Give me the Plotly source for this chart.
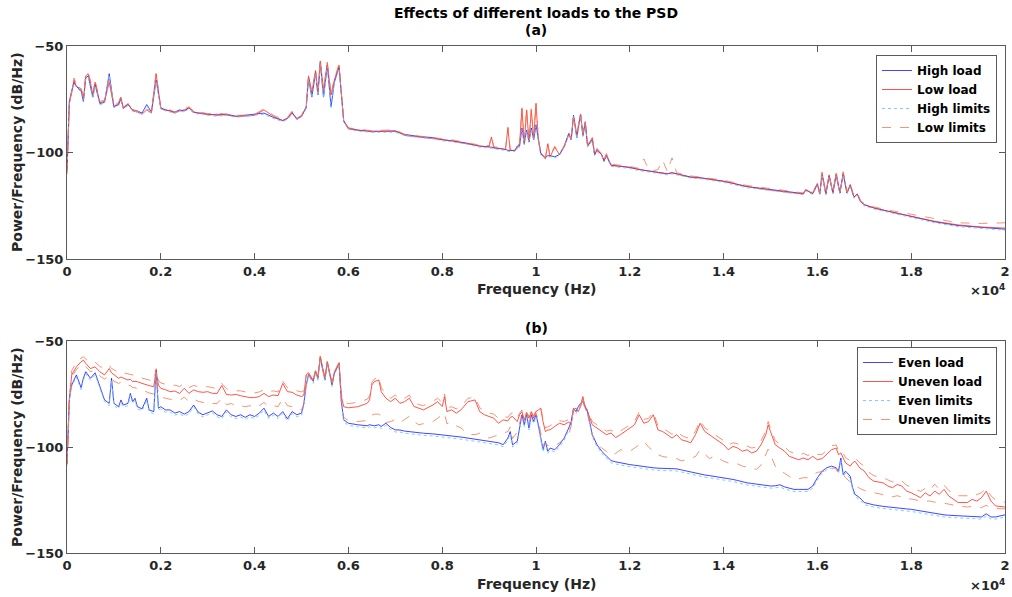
import plotly.graph_objects as go

# ---------------- Panel (a) data ----------------
FREQ_A = [
    0, 50, 100, 150, 200, 300, 350, 400, 450, 500,
    550, 600, 700, 800, 900, 1000, 1100, 1150, 1200, 1300,
    1400, 1500, 1600, 1700, 1800, 1900, 2000, 2100, 2200, 2300,
    2400, 2500, 2600, 2700, 2800, 2900, 3000, 3200, 3400, 3600,
    3800, 4000, 4200, 4400, 4600, 4700, 4800, 4900, 5000, 5100,
    5150, 5220, 5300, 5350, 5400, 5470, 5550, 5630, 5700, 5800,
    5900, 6000, 6200, 6500, 6800, 7000, 7200, 7500, 7800, 8000,
    8200, 8500, 8800, 9000, 9050, 9100, 9200, 9350, 9400, 9450,
    9550, 9600, 9650, 9700, 9750, 9800, 9850, 9900, 9950, 10000,
    10050, 10100, 10200, 10250, 10300, 10400, 10500, 10600, 10700, 10750,
    10800, 10870, 10950, 11000, 11050, 11100, 11200, 11250, 11300, 11400,
    11450, 11500, 11600, 11800, 12000, 12200, 12300, 12400, 12500, 12600,
    12700, 12800, 12900, 13000, 13300, 13500, 14000, 14500, 15000, 15500,
    15700, 15750, 15900, 16000, 16050, 16100, 16180, 16250, 16330, 16400,
    16480, 16550, 16630, 16700, 16780, 16850, 16920, 17000, 17200, 17500,
    18000, 18500, 19000, 19500, 20000,
]

HIGH_LOAD = [
    -108, -76, -71, -67, -69, -71, -76, -65, -64, -69,
    -74, -68, -77, -76.5, -63, -78.5, -77.5, -75, -79, -77.5,
    -80, -80.5, -81.5, -77.5, -81, -66, -79, -80, -80.5, -81,
    -80, -80.5, -79, -81, -81.5, -81.5, -82, -82.5, -82, -83,
    -82.5, -82, -81.5, -83.5, -85, -84, -81.5, -84, -83, -79,
    -65, -74, -62.5, -73, -58, -74, -59, -78.5, -67, -60,
    -85, -88.5, -89.5, -90, -90, -90, -91.5, -92.5, -93, -94,
    -94.5, -95.5, -97, -97.2, -97.5, -97.8, -98, -98.5, -99, -99,
    -99, -97, -97, -88.5, -96, -89.5, -95, -88.5, -94, -87,
    -95, -100.5, -102.5, -101.5, -101.5, -102, -101, -97, -91, -94,
    -82.5, -93, -82, -92, -86, -97, -94, -101, -99, -101,
    -104, -101.5, -106, -106.5, -107, -108, -108.3, -108.7, -109, -109.5,
    -109.7, -110, -109.5, -110, -111.5, -111.8, -113.5, -116, -117.5, -119,
    -119.3, -117.5, -119.3, -115, -119.5, -110.5, -119.5, -111, -119, -110.5,
    -119, -110, -119, -115.5, -121, -119.5, -123, -124.5, -126, -127.5,
    -130, -132.5, -134.3, -135.3, -136,
]

LOW_LOAD = [
    -110, -77, -72, -66, -69, -70, -75, -64, -63, -67,
    -73, -67, -76.5, -76, -67, -78.5, -77, -74, -79.5, -77,
    -80.5, -81, -82, -80, -81.5, -63, -79.5, -80, -80.5, -81.5,
    -80.5, -80, -79, -81, -81.5, -82, -82.3, -82, -82.5, -83,
    -83, -82.5, -80, -83, -85, -84, -81, -84.5, -83, -78.5,
    -64, -72, -61.5, -72, -57, -71, -58, -73, -66, -59,
    -85.5, -89, -89.5, -90.3, -90, -89.8, -92, -92.7, -93.4, -94,
    -94.5, -95.8, -97, -97.3, -92.7, -97.8, -98, -98.7, -88.5, -99,
    -99.2, -98, -96, -79.5, -95.5, -80, -95, -80, -93.5, -77,
    -94, -100, -103, -96, -102, -97.5, -101, -97.5, -91.5, -94,
    -83, -92, -82, -92, -85.5, -97, -93, -101, -98.5, -101,
    -104, -101, -106, -106.5, -107, -108, -108.3, -108.8, -109, -109.5,
    -109.7, -110, -109.5, -110, -111.7, -112, -113.5, -116, -117.7, -119,
    -119.5, -117.5, -119.3, -114.5, -119.5, -109.5, -119.5, -110.5, -119, -109.8,
    -119, -109.5, -119, -115, -121, -119.5, -123, -124.5, -126, -127.6,
    -129.8, -132.3, -134, -135, -135.5,
]

HIGH_LIMITS = [
    -109, -76.5, -71.5, -67.5, -69.5, -71.5, -76.5, -65.5, -64.5, -69.5,
    -74.5, -68.5, -77.5, -77, -63.5, -79, -78, -75.5, -79.5, -78,
    -80.5, -81, -82, -78, -81.5, -66.5, -79.5, -80.5, -81, -81.5,
    -80.5, -81, -79.5, -81.5, -82, -82, -82.5, -83, -82.5, -83.5,
    -83, -82.5, -82, -84, -85.5, -84.5, -82, -84.5, -83.5, -79.5,
    -65.5, -74.5, -63, -73.5, -58.5, -74.5, -59.5, -79, -67.5, -60.5,
    -85.5, -89, -90, -90.5, -90.5, -90.5, -92, -93, -93.5, -94.5,
    -95, -96, -97.5, -97.7, -98, -98.3, -98.5, -99, -99.5, -99.5,
    -99.5, -97.5, -97.5, -89, -96.5, -90, -95.5, -89, -94.5, -87.5,
    -95.5, -101, -103, -102, -102, -102.5, -101.5, -97.5, -91.5, -94.5,
    -83, -93.5, -82.5, -92.5, -86.5, -97.5, -94.5, -101.5, -99.5, -101.5,
    -104.5, -102, -106.5, -107, -107.5, -108.5, -108.8, -109.2, -109.5, -110,
    -110.2, -110.5, -110, -110.5, -112, -112.3, -114, -116.5, -118, -119.5,
    -119.8, -118, -119.8, -115.5, -120, -111, -120, -111.5, -119.5, -111,
    -119.5, -110.5, -119.5, -116, -121.5, -120, -123.5, -125, -126.5, -128,
    -130.5, -133, -134.8, -135.8, -136.5,
]

LOW_LIMITS = [
    -109, -76.5, -71, -65, -68, -69.5, -74, -63, -62.5, -66,
    -72, -66, -76, -75.5, -66, -78, -76.5, -73.5, -79, -76.5,
    -80, -80.5, -81.5, -79.5, -81, -62.5, -79, -79.5, -80, -81,
    -80, -79.5, -78.5, -80.5, -81, -81.5, -81.8, -81.5, -82, -82.5,
    -82.5, -82, -79.5, -82.5, -84.5, -83.5, -80.5, -84, -82.5, -78,
    -63.5, -71.5, -61, -71.5, -56.5, -70.5, -57.5, -72.5, -65.5, -58.5,
    -85, -88.5, -89, -89.8, -89.5, -89.3, -91.5, -92.2, -93, -93.5,
    -94, -95.3, -96.5, -96.8, -92.2, -97.3, -97.5, -98.2, -88, -98.5,
    -98.7, -97.5, -95.5, -79, -95, -79.5, -94.5, -79.5, -93, -76.5,
    -93.5, -99.5, -102.5, -95.5, -101.5, -97, -100.5, -97, -91, -93.5,
    -82.5, -91.5, -81.5, -91.5, -85, -96.5, -92.5, -100.5, -98, -100.5,
    -103.5, -100.5, -105.5, -106, -106.5, -107.5, -103, -108, -108.5, -108,
    -103.5, -109, -102.5, -109.5, -111, -111.5, -113, -115.5, -117, -118.5,
    -119, -117, -118.8, -114, -119, -109, -119, -110, -118.5, -109.3,
    -118.5, -109, -118.5, -114.5, -120.5, -119, -122.5, -124, -125.5, -127,
    -129, -131, -133, -133.3, -133,
]

# ---------------- Panel (b) data ----------------
FREQ_B = [
    0, 50, 100, 200, 300, 350, 400, 500, 600, 700,
    800, 900, 950, 1000, 1100, 1150, 1200, 1300, 1350, 1400,
    1450, 1500, 1600, 1700, 1750, 1850, 1900, 1950, 2000, 2100,
    2200, 2300, 2400, 2500, 2600, 2700, 2800, 2900, 3000, 3100,
    3200, 3300, 3400, 3500, 3600, 3700, 3800, 3900, 4000, 4100,
    4200, 4300, 4400, 4500, 4600, 4700, 4800, 4900, 5000, 5050,
    5100, 5150, 5250, 5300, 5350, 5400, 5500, 5550, 5650, 5700,
    5800, 5850, 5900, 6000, 6200, 6400, 6450, 6500, 6550, 6650,
    6700, 6800, 6900, 7000, 7100, 7200, 7300, 7400, 7500, 7600,
    7800, 7900, 8000, 8050, 8100, 8200, 8300, 8400, 8550, 8700,
    8800, 8900, 9000, 9100, 9200, 9300, 9400, 9450, 9500, 9600,
    9650, 9700, 9750, 9800, 9850, 9900, 9950, 10000, 10050, 10100,
    10150, 10200, 10250, 10300, 10400, 10500, 10600, 10700, 10750, 10800,
    10850, 10900, 10950, 11000, 11050, 11100, 11200, 11300, 11400, 11500,
    11600, 11700, 11800, 11900, 12000, 12100, 12200, 12300, 12400, 12500,
    12600, 12700, 12800, 12900, 13000, 13100, 13200, 13300, 13400, 13500,
    13600, 13700, 13800, 13900, 14000, 14100, 14200, 14300, 14400, 14500,
    14600, 14700, 14800, 14900, 14950, 15000, 15100, 15200, 15300, 15400,
    15500, 15600, 15700, 15800, 15900, 16000, 16100, 16200, 16300, 16400,
    16450, 16500, 16550, 16600, 16700, 16750, 16800, 16900, 17000, 17100,
    17200, 17400, 17500, 17600, 17700, 17800, 17900, 18000, 18200, 18300,
    18400, 18500, 18600, 18700, 18800, 19000, 19200, 19300, 19400, 19500,
    19600, 19700, 19800, 20000,
]

EVEN_LOAD = [
    -108, -77, -70.8, -66, -72, -67.5, -64.5, -67.6, -65, -71.6,
    -77.8, -79.4, -67.6, -79.4, -81, -77.8, -80.2, -79.4, -74.7, -78.6,
    -77, -81, -82, -77, -82.5, -83.3, -63.7, -81.7, -81, -82.5,
    -82.5, -84, -83.3, -84.5, -83.3, -80.2, -83.6, -84.8, -84, -83,
    -84.8, -85.6, -82.5, -84.8, -85.6, -84.8, -86, -84.8, -85.6, -84,
    -81.7, -85.6, -84, -85.6, -83.3, -86.7, -83.3, -84.8, -84, -79.4,
    -70.8, -65.8, -69, -64.5, -67.7, -57.8, -68.4, -60, -70.8, -65.3,
    -60.6, -78.6, -87.2, -88.8, -89.5, -90, -89.5, -89.8, -90, -89.5,
    -90.3, -88.8, -90.8, -91.9, -92, -92.5, -92.8, -93, -93.4, -93.5,
    -93.8, -94, -94.2, -94.3, -94.5, -94.8, -95, -95.3, -95.8, -96.3,
    -96.6, -97, -97.3, -97.6, -98, -98.9, -95.8, -92.7, -99, -97.3,
    -91, -84.8, -89.5, -84.8, -91, -84.8, -88, -84.8, -89.5, -95.8,
    -101.3, -97.3, -102, -100.5, -101.3, -98.9, -95.8, -91, -88, -81.7,
    -83.3, -81, -79.4, -78.6, -81, -83.3, -94.2, -98.9, -102, -104.4,
    -106.4, -107, -107.5, -108, -108.3, -108.6, -108.9, -109.5, -109.6, -109.8,
    -110, -110, -110.1, -110.2, -110.3, -110.8, -111.3, -111.7, -112.5, -113,
    -113.2, -113.5, -113.8, -114.2, -114.5, -114.9, -115.3, -115.8, -116.4, -116.9,
    -117.2, -117.5, -117.8, -118.1, -118.3, -118.4, -118.3, -117.8, -118.8, -119.5,
    -120, -120, -120, -120, -118.4, -114.5, -111.4, -109.8, -109, -109.8,
    -111.4, -105.2, -113, -111.4, -113.8, -119.2, -122.3, -123.9, -126.2, -126.8,
    -127.3, -128, -128.3, -128.5, -128.8, -129, -129.2, -129.4, -130.2, -130.6,
    -131, -131.4, -131.7, -132, -132.2, -132.5, -132.8, -132.9, -133, -133,
    -131.5, -133, -133, -132,
]

UNEVEN_LOAD = [
    -108, -78.6, -66, -62.2, -59.8, -59, -60.6, -63, -62.2, -64.5,
    -66, -63, -65, -66, -67.6, -67, -67.6, -68.4, -68, -69.2,
    -69, -69.2, -70, -70.8, -71, -71.6, -63.7, -70.8, -72.3, -73,
    -73.9, -73.6, -74.7, -72.3, -74.7, -73.1, -73.9, -74.2, -73.9, -74.7,
    -74.7, -71, -75.2, -75.5, -75.2, -75.8, -76.2, -76.7, -76.7, -76.2,
    -74.7, -76.2, -75.5, -75.8, -70, -73.9, -74.2, -75.5, -76.2, -75.5,
    -66.1, -65, -68.5, -64, -67, -57.5, -67.5, -59.8, -70, -65,
    -60.2, -76.2, -81, -81.5, -81, -79.4, -77.8, -70.8, -69.2, -68.4,
    -73.9, -77, -78.6, -77, -79.4, -78.6, -77, -80.9, -81.7, -82.5,
    -80.2, -78.6, -80.9, -76.2, -83.3, -82.5, -84, -82.5, -78.6, -77.8,
    -83.3, -84.8, -85.6, -86.4, -88.8, -87.2, -87.7, -86, -85.6, -88,
    -84.8, -83.3, -87.2, -84, -86.4, -83.3, -86.4, -83.3, -82.5, -81.7,
    -88, -92.7, -92, -91.9, -90.3, -88.8, -89.5, -88.2, -89.5, -82.5,
    -81.7, -83.3, -81, -76.2, -81.7, -83.3, -89.5, -91.1, -92.7, -94.2,
    -93.4, -95.5, -94.2, -92.7, -91.1, -89.5, -84.8, -88.8, -88, -84.8,
    -91.9, -92.7, -94.2, -95.8, -94.2, -96.6, -97.2, -98, -94.2, -88.8,
    -92.7, -94.2, -95.8, -97.3, -98.9, -101.3, -99.7, -100.5, -102, -101.3,
    -102.8, -102, -98.9, -94.2, -89.5, -92.7, -98.9, -100.5, -102, -104.4,
    -105.2, -106, -105.2, -106, -104.4, -106, -105.5, -103.6, -101.3, -100.5,
    -103.6, -102.8, -105, -107.5, -109, -107.5, -106.7, -109.8, -111.4, -114.5,
    -116.1, -116.9, -118.4, -119.2, -117.7, -118.4, -120.8, -121.6, -123.9, -121.6,
    -123.1, -120.8, -122.3, -120, -123.1, -126.2, -126.2, -124.7, -125.5, -123.9,
    -120.8, -125.5, -127.8, -128.3,
]

EVEN_LIMITS = [
    -109, -78, -71.5, -67, -73, -68.5, -65.5, -68.5, -66, -72.5,
    -78.5, -80.5, -68.5, -80.5, -82, -79, -81, -80.5, -75.5, -79.5,
    -78, -82, -83, -78, -83.5, -84.3, -64.5, -82.5, -82, -83.5,
    -83.5, -85, -84.3, -85.5, -84.3, -81, -84.5, -85.8, -85, -84,
    -85.8, -86.6, -83.5, -85.8, -86.6, -85.8, -87, -85.8, -86.6, -85,
    -82.7, -86.6, -85, -86.6, -84.3, -87.7, -84.3, -85.8, -85, -80.5,
    -71.5, -66.5, -70, -65, -68.5, -58.5, -69, -60.8, -71.5, -66,
    -61.3, -79.5, -88.2, -89.8, -90.5, -91, -90.5, -90.8, -91, -90.5,
    -91.3, -89.8, -91.8, -92.9, -93, -93.5, -93.8, -94, -94.4, -94.5,
    -94.8, -95, -95.2, -95.3, -95.5, -95.8, -96, -96.3, -96.8, -97.3,
    -97.6, -98, -98.3, -98.6, -99, -99.9, -96.8, -93.7, -100, -98.3,
    -92, -85.8, -90.5, -85.8, -92, -85.8, -89, -85.8, -90.5, -96.8,
    -102.3, -98.3, -103, -101.5, -102.3, -99.9, -96.8, -92, -89, -82.7,
    -84.3, -82, -80.4, -79.6, -82, -84.3, -95.2, -99.9, -103, -105.4,
    -107.4, -108, -108.5, -109, -109.3, -109.6, -109.9, -110.5, -110.6, -110.8,
    -111, -111, -111.1, -111.2, -111.3, -111.8, -112.3, -112.7, -113.5, -114,
    -114.2, -114.5, -114.8, -115.2, -115.5, -115.9, -116.3, -116.8, -117.4, -117.9,
    -118.2, -118.5, -118.8, -119.1, -119.3, -119.4, -119.3, -118.8, -119.8, -120.5,
    -121, -121, -121, -121, -119.4, -115.5, -112.4, -110.8, -110, -110.8,
    -112.4, -106.2, -114, -112.4, -114.8, -120.2, -123.3, -124.9, -127.2, -127.8,
    -128.3, -129, -129.3, -129.5, -129.8, -130, -130.2, -130.4, -131.2, -131.6,
    -132, -132.4, -132.7, -133, -133.2, -133.5, -133.8, -133.9, -134, -134,
    -132.5, -134, -134, -133,
]

UNEVEN_LIMITS_UPPER = [
    -108, -77, -64, -60, -58, -57.5, -58.5, -60.5, -60, -62,
    -63, -61.5, -63, -63.5, -65, -64.5, -65, -65.5, -65.5, -66,
    -66, -66.5, -67.5, -68, -68.5, -69, -63, -68.5, -69.8, -70.5,
    -71, -70.8, -71.5, -70, -72, -71, -71.5, -72, -71.5, -72,
    -72.5, -70, -72.5, -73, -73.5, -73.5, -74, -74.5, -74.5, -74,
    -73, -74, -73.5, -74, -69, -72, -72.5, -73.5, -74, -73.5,
    -66, -64.5, -68, -63.5, -66.5, -57, -67, -59.5, -69.5, -64.5,
    -60, -75, -79, -79.5, -79, -77.5, -76, -69.5, -68, -67,
    -72, -75, -77, -75.5, -77.5, -77, -75.5, -79, -80, -80.5,
    -78.5, -77, -79, -75, -81.5, -81, -82, -81, -77, -76.5,
    -81.5, -83, -84, -84.5, -86.5, -85.5, -86, -84.5, -84, -86.5,
    -84, -82.5, -86, -83.5, -85.5, -82.5, -85.5, -82.5, -82, -81,
    -87, -91, -90.5, -90, -88.5, -87.5, -88, -87, -88, -82,
    -81, -82.5, -80.5, -76, -81, -82.5, -88, -89.5, -91, -92.5,
    -92, -93.5, -92.5, -91, -89.5, -88, -83.5, -87, -86.5, -83.5,
    -90, -91, -92.5, -94, -92.5, -94.5, -95.5, -96, -92.5, -87.5,
    -91, -92.5, -94, -95.5, -97, -99, -98, -98.5, -100, -99.5,
    -100.5, -100, -97, -92.5, -88, -91, -97, -98.5, -100, -102,
    -103, -104, -103, -104, -102.5, -103.5, -103.5, -101.5, -99.5, -99,
    -101.5, -101, -103, -105, -106.5, -105.5, -105, -107.5, -109, -112,
    -113.5, -114.5, -115.5, -116.5, -115.5, -116, -118, -119, -121, -119.5,
    -120.5, -117.5, -120, -118, -120.5, -123, -123, -122, -122.5, -121.5,
    -119.5, -123, -125, -126,
]

UNEVEN_LIMITS_LOWER = [
    -108, -78, -67, -63.5, -61.5, -61, -62, -64.5, -64, -66.5,
    -68, -66.5, -67, -69, -70, -69.5, -70.5, -71, -71, -72,
    -72, -72.5, -73.5, -74, -74.5, -75, -66, -75.5, -76.5, -77,
    -77.5, -77.5, -78, -76.5, -78.5, -77.5, -78.5, -79, -78.5, -79.5,
    -79.5, -77, -80, -79.5, -80.5, -80.5, -81, -80.5, -81.5, -80.5,
    -79, -81, -80.5, -81, -77, -80.5, -81, -82, -82.5, -80,
    -69, -66, -69, -64.5, -67.5, -58, -68, -60, -70.5, -65.3,
    -60.5, -78, -86, -87.5, -88, -87.5, -86.5, -85, -84.5, -84.5,
    -85.5, -88.5, -88, -87, -88.5, -87, -85.5, -88, -89.5, -89,
    -88, -86.5, -85, -84, -89, -88.5, -90, -91, -94, -94.2,
    -93.5, -94.5, -95.8, -95, -94.2, -93.5, -92.7, -90.5, -96, -93,
    -88, -84.5, -88, -84.5, -88.5, -84, -87, -84, -87.5, -93,
    -99, -98, -99.5, -98.9, -99.5, -98, -96, -94.2, -90, -82,
    -83, -81.5, -80, -78, -81, -84, -94.5, -98, -100.5, -102,
    -104, -103, -101.3, -101.5, -102, -100.5, -99, -97.3, -100, -102,
    -103.6, -104.5, -105, -105.2, -105.5, -106.5, -106, -105.2, -104.5, -101.3,
    -103.5, -105.5, -104.2, -105.5, -106.7, -107.5, -107.5, -108, -109, -109.5,
    -110, -110.5, -108.5, -104, -101, -103.5, -109, -111, -112.5, -114,
    -115.3, -115, -114.5, -114.5, -113, -112, -111.5, -111.4, -110, -110,
    -112, -111, -113, -114.5, -116.5, -117, -118, -119.5, -120.5, -121,
    -121.5, -122.5, -123.5, -123.5, -123, -123.5, -124.5, -124.5, -125.5, -125.5,
    -125.5, -126, -126.5, -126.5, -127, -127.8, -128.3, -128, -128.6, -128.6,
    -127.5, -128.8, -129, -129.2,
]

X_TICK_VALUES = [0, 2000, 4000, 6000, 8000, 10000, 12000, 14000, 16000, 18000, 20000]
X_TICK_LABELS = ["0", "0.2", "0.4", "0.6", "0.8", "1", "1.2", "1.4", "1.6", "1.8", "2"]
Y_TICK_VALUES = [-150, -100, -50]

# ---------------- styling ----------------
FONT = "DejaVu Sans"
BLUE = "rgb(20,20,255)"
RED = "rgb(255,40,30)"
CYAN = "rgb(110,200,255)"
SALMON = "rgb(240,120,80)"
AXIS_COLOR = "#5a5a5a"

W, H = 1012, 597
L, R, T, B = 67, 7, 46, 44
plot_h = H - T - B


def yfrac(py):
    return (H - B - py) / plot_h


def xfrac(px):
    return (px - L) / (W - L - R)


fig = go.Figure()

panel_a = [
    ("High load", FREQ_A, HIGH_LOAD, BLUE, "solid", 0.8),
    ("Low load", FREQ_A, LOW_LOAD, RED, "solid", 0.8),
    ("High limits", FREQ_A, HIGH_LIMITS, CYAN, "dot", 0.9),
    ("Low limits", FREQ_A, LOW_LIMITS, SALMON, "dash", 0.8),
]
for name, x, y, c, d, w in panel_a:
    fig.add_trace(go.Scatter(x=x, y=y, name=name, mode="lines",
                             line=dict(color=c, dash=d, width=w),
                             xaxis="x", yaxis="y", legend="legend"))

panel_b = [
    ("Even load", FREQ_B, EVEN_LOAD, BLUE, "solid", 0.8, True),
    ("Uneven load", FREQ_B, UNEVEN_LOAD, RED, "solid", 0.8, True),
    ("Even limits", FREQ_B, EVEN_LIMITS, CYAN, "dot", 0.9, True),
    ("Uneven limits", FREQ_B, UNEVEN_LIMITS_UPPER, SALMON, "dash", 0.8, True),
    ("Uneven limits", FREQ_B, UNEVEN_LIMITS_LOWER, SALMON, "dash", 0.8, False),
]
for name, x, y, c, d, w, show in panel_b:
    fig.add_trace(go.Scatter(x=x, y=y, name=name, mode="lines",
                             line=dict(color=c, dash=d, width=w),
                             xaxis="x2", yaxis="y2", legend="legend2",
                             legendgroup=name, showlegend=show))

tickfont = dict(family=FONT, size=13, color="#262626", weight="bold")
xcommon = dict(range=[0, 20000], tickvals=X_TICK_VALUES, ticktext=X_TICK_LABELS,
               ticks="inside", ticklen=6, tickcolor=AXIS_COLOR, showline=True,
               linecolor=AXIS_COLOR, linewidth=1, mirror="ticks", showgrid=False,
               zeroline=False, tickfont=tickfont, domain=[0, 1], automargin=False)
ycommon = dict(range=[-150, -50], tickvals=Y_TICK_VALUES, ticks="inside", ticklen=6,
               tickcolor=AXIS_COLOR, showline=True, linecolor=AXIS_COLOR, linewidth=1,
               mirror="ticks", showgrid=False, zeroline=False, tickfont=tickfont,
               automargin=False)

legfont = dict(family=FONT, size=12, color="black", weight="bold")
fig.update_layout(
    width=W, height=H,
    margin=dict(l=L, r=R, t=T, b=B, autoexpand=False),
    paper_bgcolor="white", plot_bgcolor="white",
    xaxis=dict(**xcommon, anchor="y"),
    yaxis=dict(**ycommon, domain=[yfrac(259), 1.0], anchor="x"),
    xaxis2=dict(**xcommon, anchor="y2"),
    yaxis2=dict(**ycommon, domain=[0, yfrac(341)], anchor="x2"),
    legend=dict(x=xfrac(997), y=yfrac(55), xanchor="right", yanchor="top",
                bgcolor="white", bordercolor="#5a5a5a", borderwidth=1,
                font=legfont, itemwidth=30, tracegroupgap=0),
    legend2=dict(x=xfrac(997), y=yfrac(347), xanchor="right", yanchor="top",
                 bgcolor="white", bordercolor="#5a5a5a", borderwidth=1,
                 font=legfont, itemwidth=30, tracegroupgap=0),
    showlegend=True,
)

title_font = dict(family=FONT, size=14, color="black", weight="bold")
label_font = dict(family=FONT, size=14, color="#262626", weight="bold")
ann = [
    dict(text="Effects of different loads to the PSD", x=0.5, y=yfrac(13), font=title_font),
    dict(text="(a)", x=0.5, y=yfrac(30), font=title_font),
    dict(text="(b)", x=0.5, y=yfrac(328), font=title_font),
    dict(text="Frequency (Hz)", x=0.5, y=yfrac(289), font=label_font),
    dict(text="Frequency (Hz)", x=0.5, y=yfrac(584), font=label_font),
    dict(text="×10<sup>4</sup>", x=xfrac(987), y=yfrac(290), font=tickfont),
    dict(text="×10<sup>4</sup>", x=xfrac(987), y=yfrac(585), font=tickfont),
    dict(text="Power/Frequency (dB/Hz)", x=xfrac(17), y=yfrac(152), font=label_font, textangle=-90),
    dict(text="Power/Frequency (dB/Hz)", x=xfrac(17), y=yfrac(447), font=label_font, textangle=-90),
]
for a in ann:
    fig.add_annotation(xref="paper", yref="paper", showarrow=False,
                       xanchor="center", yanchor="middle", **a)

fig.write_html("out.html")
